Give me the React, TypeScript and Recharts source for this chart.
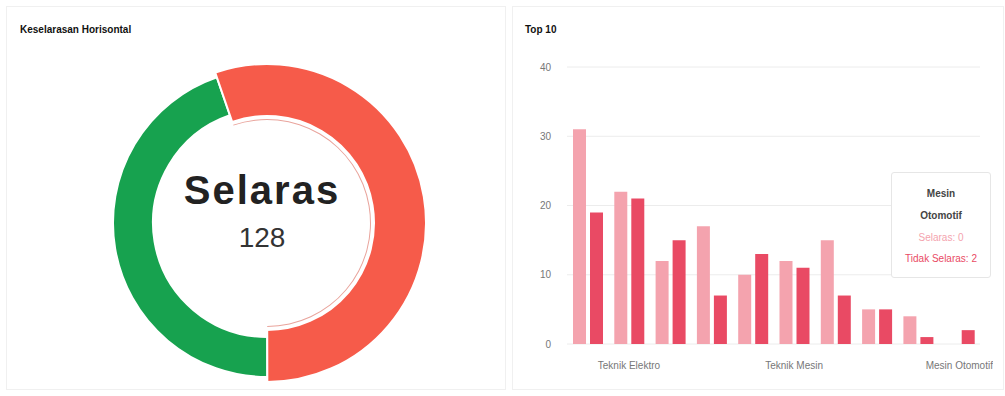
import { Bar, BarChart, CartesianGrid, Cell, Pie, PieChart, Tooltip, XAxis, YAxis } from "recharts";

const donutLabels = ["Tidak Selaras", "Selaras"];
const donutValues = [158, 128];
const donutColors = ["#f65b4a", "#17a24f"];

const majors = [
  "Teknik Komputer",
  "Teknik Elektro",
  "Akuntansi",
  "Teknik Sipil",
  "Administrasi",
  "Teknik Mesin",
  "Teknik Kimia",
  "Farmasi",
  "Perhotelan",
  "Mesin Otomotif"
];
const selaras = [31, 22, 12, 17, 10, 12, 15, 5, 4, 0];
const tidakSelaras = [19, 21, 15, 7, 13, 11, 7, 5, 1, 2];
const yTicks = [0, 10, 20, 30, 40];
const shownLabels = [1, 5, 9];

const font = "'Liberation Sans', Arial, sans-serif";

const donutData = donutLabels.map((name, i) => ({ name, value: donutValues[i] }));
const barData = majors.map((name, i) => ({
  name,
  selaras: selaras[i],
  tidakSelaras: tidakSelaras[i]
}));

function TopTooltip({ active, payload, label }: any) {
  if (!active || !payload || !payload.length) return null;
  return (
    <div
      style={{
        width: 98,
        background: "#fff",
        border: "1px solid #e6e6e6",
        borderRadius: 3,
        padding: "10px 0 8px",
        textAlign: "center",
        fontFamily: font,
        fontSize: 10,
        lineHeight: "21px"
      }}
    >
      {String(label)
        .split(" ")
        .map((w) => (
          <div key={w} style={{ color: "#444", fontWeight: 600, lineHeight: "22px" }}>
            {w}
          </div>
        ))}
      <div style={{ color: "#f4a3ae" }}>Selaras: {payload[0].value}</div>
      <div style={{ color: "#e94a64" }}>Tidak Selaras: {payload[1].value}</div>
    </div>
  );
}

export default function App() {
  const cx = 256;
  const cy = 218;
  return (
    <div style={{ position: "absolute", left: 0, top: 0, width: 1005, height: 396, background: "#fff", fontFamily: font }}>
      <div style={{ position: "absolute", left: 6, top: 6, width: 498, height: 382, border: "1px solid #f0f0f0" }} />
      <div style={{ position: "absolute", left: 512, top: 6, width: 490, height: 382, border: "1px solid #f0f0f0" }} />
      <div style={{ position: "absolute", left: 20, top: 24, fontSize: 10, fontWeight: 700, color: "#111" }}>
        Keselarasan Horisontal
      </div>
      <div style={{ position: "absolute", left: 525, top: 24, fontSize: 10, fontWeight: 700, color: "#111" }}>
        Top 10
      </div>

      <div style={{ position: "absolute", left: 6, top: 0 }}>
        <PieChart width={498} height={396}>
          <Pie
            data={donutData}
            dataKey="value"
            cx={cx}
            cy={cy}
            innerRadius={114}
            outerRadius={154}
            startAngle={109}
            endAngle={-251}
            stroke="#fff"
            strokeWidth={2}
            isAnimationActive={false}
          >
            {donutData.map((d, i) => (
              <Cell key={d.name} fill={i === 1 ? donutColors[1] : "transparent"} stroke={i === 1 ? "#fff" : "none"} />
            ))}
          </Pie>
          <Pie
            data={donutData}
            dataKey="value"
            cx={cx}
            cy={cy}
            innerRadius={107}
            outerRadius={159}
            startAngle={109}
            endAngle={-251}
            stroke="#fff"
            strokeWidth={2}
            isAnimationActive={false}
          >
            {donutData.map((d, i) => (
              <Cell key={d.name} fill={i === 0 ? donutColors[0] : "transparent"} stroke={i === 0 ? "#fff" : "none"} />
            ))}
          </Pie>
          <Pie
            data={donutData}
            dataKey="value"
            cx={cx}
            cy={cy}
            innerRadius={103}
            outerRadius={104}
            startAngle={109}
            endAngle={-251}
            stroke="none"
            isAnimationActive={false}
          >
            {donutData.map((d, i) => (
              <Cell key={d.name} fill={i === 0 ? "#e9a49c" : "transparent"} />
            ))}
          </Pie>
          <text x={cx} y={190} textAnchor="middle" dominantBaseline="central" fontSize={40} fontWeight={700} letterSpacing={2} fill="#222" fontFamily={font}>
            Selaras
          </text>
          <text x={cx} y={237} textAnchor="middle" dominantBaseline="central" fontSize={28} fill="#333" fontFamily={font}>
            {donutValues[1]}
          </text>
        </PieChart>
      </div>

      <div style={{ position: "absolute", left: 513, top: 0 }}>
        <BarChart
          width={480}
          height={396}
          data={barData}
          margin={{ top: 67, right: 13, bottom: 22, left: 0 }}
          barCategoryGap="12%"
          barGap={4}
        >
          <CartesianGrid vertical={false} stroke="#ececec" />
          <XAxis
            dataKey="name"
            axisLine={false}
            tickLine={false}
            interval={0}
            height={30}
            tickMargin={12}
            tick={{ fontSize: 10, fill: "#777", fontFamily: font }}
            tickFormatter={(v: string, i: number) => (shownLabels.includes(i) ? v : "")}
          />
          <YAxis
            domain={[0, 40]}
            ticks={yTicks}
            axisLine={false}
            tickLine={false}
            width={54}
            tickMargin={10}
            tick={{ fontSize: 10, fill: "#777", fontFamily: font }}
          />
          <Tooltip
            content={<TopTooltip />}
            defaultIndex={9}
            position={{ x: 378, y: 172 }}
            cursor={false}
            isAnimationActive={false}
          />
          <Bar dataKey="selaras" name="Selaras" fill="#f4a3ae" barSize={13} isAnimationActive={false} />
          <Bar dataKey="tidakSelaras" name="Tidak Selaras" fill="#e94a64" barSize={13} isAnimationActive={false} />
        </BarChart>
      </div>
    </div>
  );
}
